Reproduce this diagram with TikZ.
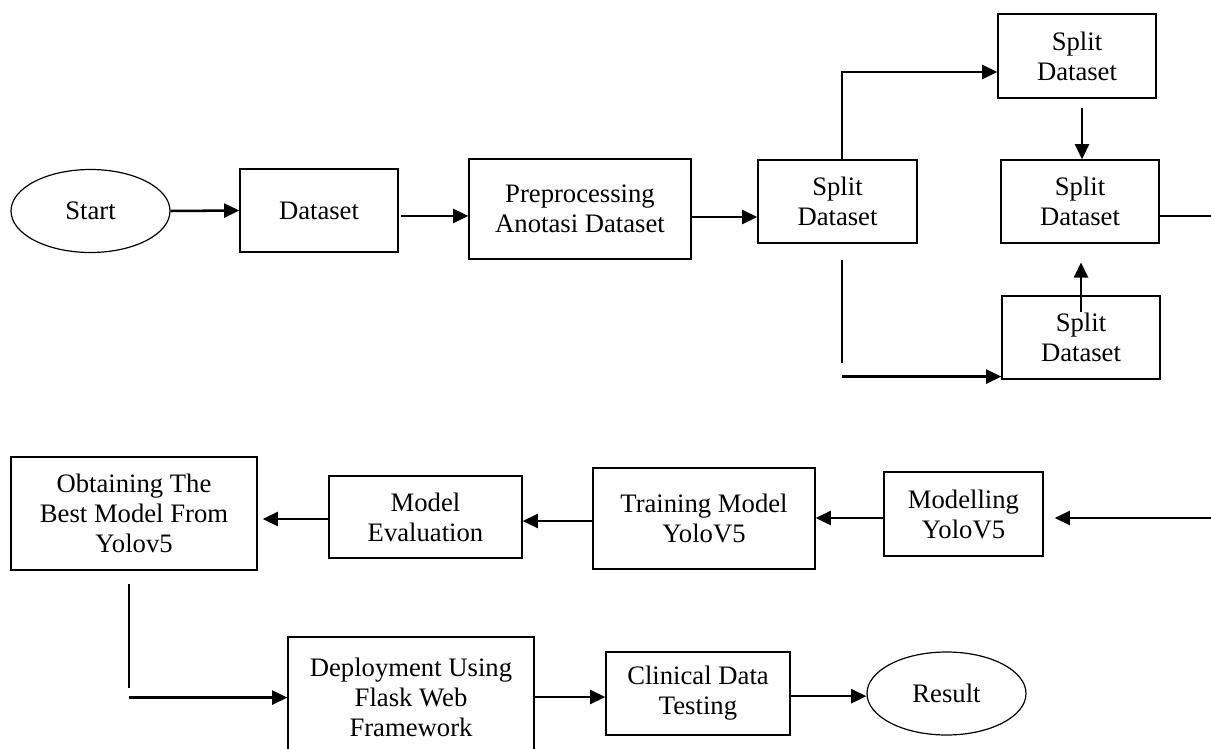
\documentclass[tikz,border=0pt]{standalone}
\usepackage{fontspec}
\setmainfont{Liberation Serif}
\usetikzlibrary{arrows.meta,shapes.geometric}
\tikzset{
  txt/.style={font=\fontsize{20pt}{22.5pt}\selectfont, align=center, inner sep=0pt},
  sz/.style 2 args={minimum width=#1*0.75pt, minimum height=#2*0.75pt},
  box/.style={txt, draw, line width=0.9pt, rectangle},
  oval/.style={txt, draw, line width=0.9pt, ellipse},
  conn/.style={line width=1.9pt},
  arr/.style={conn, -{Triangle[length=11.5pt,width=10.5pt]}},
}
\begin{document}
\begin{tikzpicture}[x=0.75pt,y=-0.75pt]
\useasboundingbox (0,0) rectangle (1211,749);
\clip (0,0) rectangle (1211,749);
% top row
\node[oval, sz={159}{83}] (start) at (90.5,211) {Start};
\node[box, sz={158}{83}] (dataset) at (319,210.5) {Dataset};
\node[box, sz={222}{100}] (prep) at (580,209) {Preprocessing\\Anotasi Dataset};
\node[box, sz={159}{83}] (splitL) at (837.5,201.5) {Split\\Dataset};
\node[box, sz={158}{84}] (splitT) at (1077,56) {Split\\Dataset};
\node[box, sz={158}{83}] (splitM) at (1080,201.5) {Split\\Dataset};
\node[box, sz={158}{83}] (splitB) at (1081,337.5) {Split\\Dataset};
% bottom rows
\node[box, sz={246}{113}] (obtain) at (134,513.5) {Obtaining The\\Best Model From\\Yolov5};
\node[box, sz={193}{82}] (eval) at (425.5,517) {Model\\Evaluation};
\node[box, sz={222}{101}] (train) at (704,518.5) {Training Model\\YoloV5};
\node[box, sz={159}{84}] (modl) at (963.5,514) {Modelling\\YoloV5};
\node[box, sz={246}{120}] (deploy) at (411,697) {Deployment Using\\Flask Web\\Framework};
\node[box, sz={184}{83}] (clin) at (698,693.5) {Clinical Data\\Testing};
\node[oval, sz={159}{83}] (result) at (946.5,693.5) {Result};
% edge coordinates
\coordinate (eR1) at (1211,216);
\coordinate (eR2) at (1211,518);
% connectors top
\draw[arr] (start.east) -- (dataset.west);
\draw[arr] ([xshift=2pt,yshift=-4.1pt]dataset.east) coordinate (a1) -- (a1 -| prep.west);
\draw[arr] ([yshift=-6pt]prep.east) coordinate (a2) -- (a2 -| splitL.west);
\draw[arr] ([xshift=3.4pt]splitL.north) |- ([yshift=-12pt]splitT.west);
\draw[arr] ([xshift=3.75pt,yshift=-6.75pt]splitT.south) coordinate (a3) -- (a3 |- splitM.north);
\draw[arr] ([yshift=-12.75pt]splitB.north) -- ++(0,-50);
\draw[conn] ([xshift=3.4pt,yshift=-12pt]splitL.south) -- ++(0,103);
\draw[arr] ([xshift=3.4pt,yshift=-99.75pt]splitL.south) coordinate (a4) -- (a4 -| splitB.west);
\draw[conn] (splitM.east |- eR1) -- (eR1);
% connectors bottom
\coordinate (m2) at ([xshift=8.25pt]modl.east);
\draw[arr] (eR2) -- (m2 |- eR2);
\draw[arr] ([yshift=-3pt]modl.west) coordinate (a5) -- (a5 -| train.east);
\draw[arr] ([yshift=-1.9pt]train.west) coordinate (a6) -- (a6 -| eval.east);
\coordinate (o1) at ([xshift=3.75pt]obtain.east);
\draw[arr] ([yshift=-1.5pt]eval.west) coordinate (a7) -- (a7 -| o1);
\draw[conn] ([xshift=-3.75pt,yshift=-9.75pt]obtain.south) -- ++(0,104);
\coordinate (g1) at ([xshift=-3.75pt,yshift=-95.25pt]obtain.south);
\draw[arr] (g1) -- (g1 -| deploy.west);
\draw[arr] (deploy.east) -- (deploy.east -| clin.west);
\draw[arr] ([yshift=-2pt]clin.east) coordinate (a8) -- (a8 -| result.west);
\end{tikzpicture}
\end{document}
